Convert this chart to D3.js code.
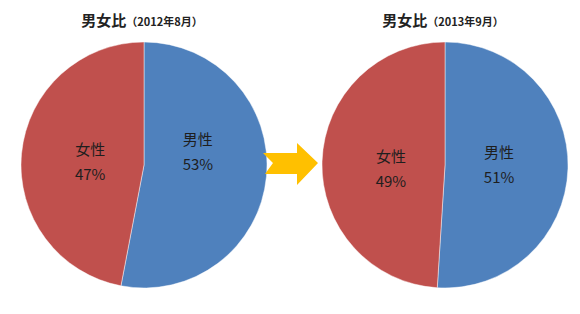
<!DOCTYPE html>
<html><head><meta charset="utf-8">
<script src="https://cdn.jsdelivr.net/npm/d3@7"></script>
<style>body{margin:0;background:#fff}svg{display:block}</style>
</head><body>
<svg id="c" width="580" height="314"></svg>
<script>
const categories = ["男性", "女性"];
const titles = ["男女比", "男女比"];
const periods = ["（2012年8月）", "（2013年9月）"];
const values2012 = [53, 47];
const values2013 = [51, 49];
const seriesValues = [values2012, values2013];
const colors = ["#4F81BD", "#C0504D"];

const svg = d3.select("#c");
const R = 123;
const cy = 165;
const xPos = d3.scalePoint().domain(d3.range(seriesValues.length)).range([144, 445]);

const pie = d3.pie().sort(null).value(d => d);
const arc = d3.arc().innerRadius(0).outerRadius(R);
const labelArc = d3.arc().innerRadius(R * 0.88).outerRadius(0);
// Excel's best-fit label nudges (px) per chart / slice
const nudge = [[[0, -18], [0, 2]], [[0, -2], [0, 6]]];

seriesValues.forEach((vals, i) => {
  const cx = xPos(i);
  const g = svg.append("g").attr("transform", `translate(${cx},${cy})`);
  const arcs = pie(vals);
  g.selectAll("path").data(arcs).join("path")
    .attr("d", arc)
    .attr("fill", (d, j) => colors[j])
    .attr("stroke", "rgba(255,255,255,0.45)")
    .attr("stroke-width", 1);
  arcs.forEach((d, j) => {
    const [x, y] = labelArc.centroid(d);
    const nx = x + nudge[i][j][0], ny = y + nudge[i][j][1];
    const t = g.append("text")
      .attr("text-anchor", "middle")
      .attr("font-family", "'Noto Sans CJK JP','Noto Sans',sans-serif")
      .attr("font-size", 15)
      .attr("fill", "#1e1e1e");
    t.append("tspan").attr("x", nx).attr("y", ny - 7).text(categories[j]);
    t.append("tspan").attr("x", nx).attr("y", ny + 18).text(d3.format(".0%")(vals[j] / d3.sum(vals)));
  });
  const title = svg.append("text")
    .attr("x", cx - 2).attr("y", 26)
    .attr("text-anchor", "middle")
    .attr("font-family", "'Noto Sans CJK JP','Noto Sans',sans-serif")
    .attr("font-weight", "bold")
    .attr("fill", "#222");
  title.append("tspan").attr("font-size", 15).text(titles[i]);
  title.append("tspan").attr("font-size", 11).text(periods[i]);
});

// arrow between the two pies
const ax = 263, ay = 163;
const arrowPts = [[0, -10], [34, -10], [34, -20], [55, 0], [34, 22], [34, 11], [2, 11], [10, 0]];
svg.append("polygon")
  .attr("points", arrowPts.map(p => [ax + p[0], ay + p[1]].join(",")).join(" "))
  .attr("fill", "#FFC000");
</script>
</body></html>
